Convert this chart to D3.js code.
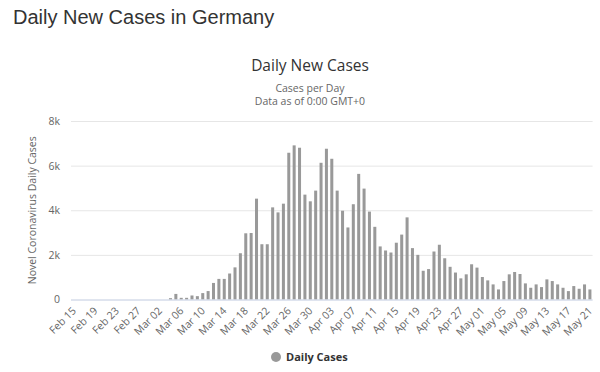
<!DOCTYPE html>
<html>
<head>
<meta charset="UTF-8">
<style>
  body { margin: 0; background: #fff; }
  svg { display: block; }
  .hc { font-family: "Open Sans", sans-serif; }
</style>
</head>
<body>
<svg id="chart" width="600" height="372"></svg>
<script src="https://d3js.org/d3.v7.min.js"></script>
<script>
// daily new cases, Feb 15 .. May 21
const startDay = new Date(2020, 1, 15);
const endDay = new Date(2020, 4, 22);
const dailyCases = [
  0, 0, 0, 0, 0, 0, 0, 0, 0, 0, 0, 0, 0, 0, 0, 0, 0, 0,
  60, 250, 75, 75, 180, 150, 287, 378, 742, 923, 923, 1165, 1440, 2073, 2967, 2980, 4520,
  2477, 2477, 4129, 3904, 4295, 6577, 6908, 6802, 4700, 4400, 4880, 6127, 6757, 6307, 4880, 3979, 3229, 4270, 5630,
  4970, 3939, 3257, 2379, 2197, 2106, 2545, 2909, 3681, 2303, 2000, 1288, 1364, 2151, 2454, 1848, 1465, 1208,
  948, 1128, 1579, 1429, 1008, 857, 677, 451, 827, 1128, 1233, 1143, 722, 526, 677, 556, 902, 827, 677, 526, 376, 602, 481, 677, 451
];
const yTicks = [0, 2000, 4000, 6000, 8000];
const yTickLabels = ["0", "2k", "4k", "6k", "8k"];
const xTickLabels = ["Feb 15", "Feb 19", "Feb 23", "Feb 27", "Mar 02", "Mar 06", "Mar 10", "Mar 14",
  "Mar 18", "Mar 22", "Mar 26", "Mar 30", "Apr 03", "Apr 07", "Apr 11", "Apr 15", "Apr 19", "Apr 23",
  "Apr 27", "May 01", "May 05", "May 09", "May 13", "May 17", "May 21"];

const fmt = d3.timeFormat("%b %d");
const days = d3.timeDay.range(startDay, endDay).map(fmt);

const svg = d3.select("#chart");
const plot = { left: 71, right: 592.6, top: 121, bottom: 299.5 };

const x = d3.scaleBand()
    .domain(days)
    .range([plot.left, plot.right])
    .paddingInner(0.44)
    .paddingOuter(0.22);

const y = d3.scaleLinear()
    .domain([0, 8000])
    .range([plot.bottom, plot.top]);

// page heading
svg.append("text")
    .attr("x", 13).attr("y", 23.5)
    .style("font-family", "'Liberation Sans', Arial, sans-serif")
    .style("font-size", "20px")
    .style("fill", "#333")
    .text("Daily New Cases in Germany");

// chart titles
const cx = 310;
svg.append("text").attr("class", "hc")
    .attr("x", cx).attr("y", 71)
    .attr("text-anchor", "middle")
    .style("font-size", "15.5px").style("fill", "#333")
    .text("Daily New Cases");
svg.append("text").attr("class", "hc")
    .attr("x", cx).attr("y", 92)
    .attr("text-anchor", "middle")
    .style("font-size", "10.5px").style("fill", "#666")
    .text("Cases per Day");
svg.append("text").attr("class", "hc")
    .attr("x", cx).attr("y", 105)
    .attr("text-anchor", "middle")
    .style("font-size", "10.5px").style("fill", "#666")
    .text("Data as of 0:00 GMT+0");

// gridlines + y labels
const yAxis = d3.axisLeft(y)
    .tickValues(yTicks)
    .tickSize(-(plot.right - plot.left))
    .tickPadding(11)
    .tickFormat((d, i) => yTickLabels[i]);

const gy = svg.append("g")
    .attr("class", "hc")
    .attr("transform", "translate(" + plot.left + ",0)")
    .call(yAxis);
gy.select(".domain").remove();
gy.selectAll(".tick line").attr("stroke", "#e6e6e6");
gy.selectAll(".tick text").style("font-size", "10.5px").style("fill", "#666");

svg.append("text").attr("class", "hc")
    .attr("transform", "translate(36," + ((plot.top + plot.bottom) / 2) + ") rotate(-90)")
    .attr("text-anchor", "middle")
    .style("font-size", "10.5px").style("fill", "#666")
    .text("Novel Coronavirus Daily Cases");

// bars
svg.append("g")
    .selectAll("rect")
    .data(dailyCases)
    .join("rect")
    .attr("x", (d, i) => x(days[i]))
    .attr("y", d => y(d))
    .attr("width", x.bandwidth())
    .attr("height", d => plot.bottom - y(d))
    .attr("fill", "#999");

// x axis
const xAxis = d3.axisBottom(x)
    .tickValues(xTickLabels)
    .tickSize(0)
    .tickPadding(0);

const gx = svg.append("g")
    .attr("class", "hc")
    .attr("transform", "translate(0," + plot.bottom + ")")
    .call(xAxis);
gx.select(".domain").attr("stroke", "#ccd6eb").attr("d", "M" + plot.left + ",0.5H" + plot.right);
gx.selectAll(".tick text")
    .attr("text-anchor", "end")
    .attr("y", 0).attr("dy", 0)
    .attr("transform", "translate(3,12) rotate(-45)")
    .style("font-size", "10.5px").style("fill", "#666");

// legend
const legend = svg.append("g").attr("class", "hc");
legend.append("circle")
    .attr("cx", 276).attr("cy", 357).attr("r", 5)
    .attr("fill", "#999");
legend.append("text")
    .attr("x", 286).attr("y", 361)
    .style("font-size", "11px").style("font-weight", "bold").style("fill", "#333")
    .text("Daily Cases");
</script>
</body>
</html>
